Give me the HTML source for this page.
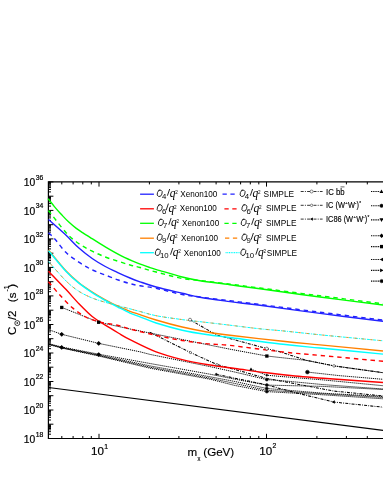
<!DOCTYPE html>
<html><head><meta charset="utf-8"><style>
html,body{margin:0;padding:0;background:#fff;}
body{will-change:transform;width:383px;height:495px;position:relative;overflow:hidden;font-family:"Liberation Sans",sans-serif;color:#000;}
.t{position:absolute;white-space:nowrap;line-height:1;}
.tk{font-size:10.3px;-webkit-text-stroke:0.2px #000;}
.tk .sup{font-size:6.8px;position:relative;top:-6.4px;left:0.4px;}
.ax{font-size:10.5px;-webkit-text-stroke:0.15px #000;}
.sub{font-size:6px;position:relative;top:3px;}
.sup{position:relative;}
.lg{font-size:8.2px;letter-spacing:-0.1px;}
.lg i{font-size:9px;}
.sub2{font-size:6px;position:relative;top:1.6px;}
.sup2{font-size:5px;position:relative;top:-3.2px;}
</style></head><body>
<svg width="383" height="495" viewBox="0 0 383 495" style="position:absolute;left:0;top:0">
<rect width="383" height="495" fill="#fff"/>
<path d="M48.5,387.5 L383,430.5" stroke="#000" stroke-width="1.25" fill="none"/>
<path d="M61.7,307.4 L98.7,322.2 L130.0,329.0 L230.0,349.2 L266.8,356.0 L280.0,357.5 L306.6,360.4 L334.0,365.9 L383.0,372.7" stroke="#000" stroke-width="1.0" stroke-dasharray="1.15,0.85" fill="none"/>
<path d="M48.5,329.6 L61.7,334.3 L98.7,343.4 L140.0,351.8 L150.0,354.4 L210.0,366.6 L235.0,372.1 L266.8,379.6 L280.0,380.5 L323.0,384.6 L383.0,389.0" stroke="#000" stroke-width="1.0" stroke-dasharray="1.15,0.85" fill="none"/>
<path d="M48.5,343.6 L61.7,347.0 L98.7,354.2 L150.0,363.5 L210.0,374.2 L235.0,379.2 L266.8,385.1 L323.0,386.4 L383.0,389.5" stroke="#000" stroke-width="1.0" stroke-dasharray="1.15,0.85" fill="none" stroke-dashoffset="0.0"/>
<path d="M48.5,343.9 L61.7,347.5 L98.7,355.0 L150.0,365.9 L210.0,376.8 L235.0,381.5 L266.8,388.5 L323.0,393.2 L383.0,396.5" stroke="#000" stroke-width="1.0" stroke-dasharray="1.15,0.85" fill="none" stroke-dashoffset="0.6"/>
<path d="M48.5,344.2 L61.7,347.8 L98.7,355.5 L150.0,367.2 L210.0,378.2 L235.0,383.5 L266.8,390.3 L323.0,393.8 L383.0,397.5" stroke="#000" stroke-width="1.0" stroke-dasharray="1.15,0.85" fill="none" stroke-dashoffset="1.1"/>
<path d="M48.5,344.5 L61.7,348.0 L98.7,356.0 L150.0,368.2 L210.0,379.2 L235.0,385.5 L266.8,391.6 L323.0,394.8 L383.0,398.8" stroke="#000" stroke-width="1.0" stroke-dasharray="1.15,0.85" fill="none" stroke-dashoffset="1.7"/>
<path d="M251.0,369.2 L266.8,375.2 L280.0,376.4 L323.0,379.9 L383.0,385.7" stroke="#000" stroke-width="1.0" stroke-dasharray="1.15,0.85" fill="none"/>
<path d="M307.4,372.1 L340.0,375.7 L383.0,379.3" stroke="#000" stroke-width="1.0" stroke-dasharray="1.15,0.85" fill="none"/>
<path d="M190.0,319.7 L216.1,334.8 L266.8,348.6 L280.0,351.8 L306.6,360.4 L334.0,365.9 L383.0,372.7" stroke="#000" stroke-width="1.05" stroke-dasharray="3,1.2,0.9,1.2" fill="none"/>
<path d="M149.6,332.2 L190.4,352.5 L217.0,364.6 L266.8,378.4 L333.4,391.0 L383.0,396.0" stroke="#000" stroke-width="1.05" stroke-dasharray="3,1.2,0.9,1.2" fill="none"/>
<path d="M216.3,374.3 L266.8,384.9 L295.7,392.8 L333.4,402.0 L383.0,407.2" stroke="#000" stroke-width="1.05" stroke-dasharray="3,1.2,0.9,1.2" fill="none"/>
<path d="M48.4,181.3 V438.5 H383 M48.4,181.9 H383" stroke="#000" stroke-width="1.2" fill="none"/>
<path d="M61.8,438.5 v-2.5 M61.8,181.9 v2.5 M73.1,438.5 v-2.5 M73.1,181.9 v2.5 M82.8,438.5 v-2.5 M82.8,181.9 v2.5 M91.3,438.5 v-2.5 M91.3,181.9 v2.5 M99.0,438.5 v-4.7 M99.0,181.9 v4.7 M149.4,438.5 v-2.5 M149.4,181.9 v2.5 M178.9,438.5 v-2.5 M178.9,181.9 v2.5 M199.8,438.5 v-2.5 M199.8,181.9 v2.5 M216.1,438.5 v-2.5 M216.1,181.9 v2.5 M229.3,438.5 v-2.5 M229.3,181.9 v2.5 M240.6,438.5 v-2.5 M240.6,181.9 v2.5 M250.3,438.5 v-2.5 M250.3,181.9 v2.5 M258.8,438.5 v-2.5 M258.8,181.9 v2.5 M266.5,438.5 v-4.7 M266.5,181.9 v4.7 M316.9,438.5 v-2.5 M316.9,181.9 v2.5 M346.4,438.5 v-2.5 M346.4,181.9 v2.5 M367.3,438.5 v-2.5 M367.3,181.9 v2.5 M383.6,438.5 v-2.5 M383.6,181.9 v2.5 M48.4,438.5 h5.0 M48.4,434.2 h2.6 M48.4,431.7 h2.6 M48.4,429.9 h2.6 M48.4,428.5 h2.6 M48.4,427.4 h2.6 M48.4,426.5 h2.6 M48.4,425.6 h2.6 M48.4,424.9 h2.6 M48.4,424.2 h5.0 M48.4,420.0 h2.6 M48.4,417.4 h2.6 M48.4,415.7 h2.6 M48.4,414.3 h2.6 M48.4,413.2 h2.6 M48.4,412.2 h2.6 M48.4,411.4 h2.6 M48.4,410.6 h2.6 M48.4,410.0 h5.0 M48.4,405.7 h2.6 M48.4,403.2 h2.6 M48.4,401.4 h2.6 M48.4,400.0 h2.6 M48.4,398.9 h2.6 M48.4,397.9 h2.6 M48.4,397.1 h2.6 M48.4,396.4 h2.6 M48.4,395.7 h5.0 M48.4,391.4 h2.6 M48.4,388.9 h2.6 M48.4,387.2 h2.6 M48.4,385.8 h2.6 M48.4,384.6 h2.6 M48.4,383.7 h2.6 M48.4,382.9 h2.6 M48.4,382.1 h2.6 M48.4,381.5 h5.0 M48.4,377.2 h2.6 M48.4,374.7 h2.6 M48.4,372.9 h2.6 M48.4,371.5 h2.6 M48.4,370.4 h2.6 M48.4,369.4 h2.6 M48.4,368.6 h2.6 M48.4,367.9 h2.6 M48.4,367.2 h5.0 M48.4,362.9 h2.6 M48.4,360.4 h2.6 M48.4,358.6 h2.6 M48.4,357.3 h2.6 M48.4,356.1 h2.6 M48.4,355.2 h2.6 M48.4,354.3 h2.6 M48.4,353.6 h2.6 M48.4,353.0 h5.0 M48.4,348.7 h2.6 M48.4,346.2 h2.6 M48.4,344.4 h2.6 M48.4,343.0 h2.6 M48.4,341.9 h2.6 M48.4,340.9 h2.6 M48.4,340.1 h2.6 M48.4,339.4 h2.6 M48.4,338.7 h5.0 M48.4,334.4 h2.6 M48.4,331.9 h2.6 M48.4,330.1 h2.6 M48.4,328.7 h2.6 M48.4,327.6 h2.6 M48.4,326.7 h2.6 M48.4,325.8 h2.6 M48.4,325.1 h2.6 M48.4,324.5 h5.0 M48.4,320.2 h2.6 M48.4,317.7 h2.6 M48.4,315.9 h2.6 M48.4,314.5 h2.6 M48.4,313.4 h2.6 M48.4,312.4 h2.6 M48.4,311.6 h2.6 M48.4,310.9 h2.6 M48.4,310.2 h5.0 M48.4,305.9 h2.6 M48.4,303.4 h2.6 M48.4,301.6 h2.6 M48.4,300.2 h2.6 M48.4,299.1 h2.6 M48.4,298.2 h2.6 M48.4,297.3 h2.6 M48.4,296.6 h2.6 M48.4,295.9 h5.0 M48.4,291.7 h2.6 M48.4,289.1 h2.6 M48.4,287.4 h2.6 M48.4,286.0 h2.6 M48.4,284.9 h2.6 M48.4,283.9 h2.6 M48.4,283.1 h2.6 M48.4,282.3 h2.6 M48.4,281.7 h5.0 M48.4,277.4 h2.6 M48.4,274.9 h2.6 M48.4,273.1 h2.6 M48.4,271.7 h2.6 M48.4,270.6 h2.6 M48.4,269.6 h2.6 M48.4,268.8 h2.6 M48.4,268.1 h2.6 M48.4,267.4 h5.0 M48.4,263.1 h2.6 M48.4,260.6 h2.6 M48.4,258.9 h2.6 M48.4,257.5 h2.6 M48.4,256.3 h2.6 M48.4,255.4 h2.6 M48.4,254.6 h2.6 M48.4,253.8 h2.6 M48.4,253.2 h5.0 M48.4,248.9 h2.6 M48.4,246.4 h2.6 M48.4,244.6 h2.6 M48.4,243.2 h2.6 M48.4,242.1 h2.6 M48.4,241.1 h2.6 M48.4,240.3 h2.6 M48.4,239.6 h2.6 M48.4,238.9 h5.0 M48.4,234.6 h2.6 M48.4,232.1 h2.6 M48.4,230.3 h2.6 M48.4,229.0 h2.6 M48.4,227.8 h2.6 M48.4,226.9 h2.6 M48.4,226.0 h2.6 M48.4,225.3 h2.6 M48.4,224.7 h5.0 M48.4,220.4 h2.6 M48.4,217.9 h2.6 M48.4,216.1 h2.6 M48.4,214.7 h2.6 M48.4,213.6 h2.6 M48.4,212.6 h2.6 M48.4,211.8 h2.6 M48.4,211.1 h2.6 M48.4,210.4 h5.0 M48.4,206.1 h2.6 M48.4,203.6 h2.6 M48.4,201.8 h2.6 M48.4,200.4 h2.6 M48.4,199.3 h2.6 M48.4,198.4 h2.6 M48.4,197.5 h2.6 M48.4,196.8 h2.6 M48.4,196.2 h5.0 M48.4,191.9 h2.6 M48.4,189.4 h2.6 M48.4,187.6 h2.6 M48.4,186.2 h2.6 M48.4,185.1 h2.6 M48.4,184.1 h2.6 M48.4,183.3 h2.6 M48.4,182.6 h2.6 M48.4,181.9 h5.0" stroke="#000" stroke-width="1" fill="none"/>
<path d="M48.5,250.0 C51.4,253.5 61.0,265.5 66.1,271.0 C71.2,276.5 74.8,279.5 79.2,283.0 C83.6,286.5 87.9,289.2 92.2,292.0 C96.5,294.8 101.0,297.4 105.3,299.8 C109.6,302.2 114.2,304.5 118.3,306.4 C122.4,308.3 126.4,309.9 130.0,311.3 C133.6,312.7 135.7,313.2 140.0,314.6 C144.3,316.1 149.1,317.9 156.1,320.0 C163.1,322.1 173.5,325.0 182.2,327.0 C190.9,329.0 200.3,330.8 208.3,332.2 C216.3,333.6 217.6,333.8 230.0,335.3 C242.4,336.8 268.0,339.7 283.0,341.3 C298.0,342.9 303.3,343.3 320.0,344.9 C336.7,346.5 372.5,350.0 383.0,351.0" stroke="#ff8000" stroke-width="1.40" fill="none"/>
<path d="M48.5,250.6 C51.4,254.1 61.0,266.0 66.1,271.5 C71.2,277.0 74.8,279.9 79.2,283.4 C83.6,286.9 87.9,289.8 92.2,292.6 C96.5,295.4 101.0,297.9 105.3,300.4 C109.6,302.8 114.2,305.2 118.3,307.3 C122.4,309.4 126.4,311.5 130.0,313.1 C133.6,314.7 135.7,315.2 140.0,316.8 C144.3,318.4 149.1,320.8 156.1,323.0 C163.1,325.2 173.5,328.2 182.2,330.2 C190.9,332.2 200.3,333.6 208.3,334.8 C216.3,336.0 217.6,335.9 230.0,337.5 C242.4,339.1 268.0,342.6 283.0,344.3 C298.0,346.1 303.3,346.4 320.0,348.0 C336.7,349.6 372.5,353.1 383.0,354.1" stroke="#00ffff" stroke-width="1.40" fill="none"/>
<path d="M48.5,261.5 C51.4,264.8 61.0,276.0 66.1,281.0 C71.2,286.0 74.8,288.7 79.2,291.5 C83.6,294.3 87.9,296.2 92.2,298.0 C96.5,299.8 101.0,301.0 105.3,302.3 C109.6,303.6 114.2,304.7 118.3,305.8 C122.4,306.9 126.4,307.9 130.0,308.8 C133.6,309.8 135.7,310.4 140.0,311.5 C144.3,312.6 149.1,314.3 156.1,315.7 C163.1,317.1 174.9,318.6 182.2,319.6 C189.5,320.6 192.0,320.8 200.0,321.7 C208.0,322.6 220.0,324.0 230.0,325.2 C240.0,326.4 251.2,327.9 260.0,328.8 C268.8,329.8 273.0,329.9 283.0,330.9 C293.0,331.9 303.3,333.1 320.0,334.8 C336.7,336.5 372.5,339.8 383.0,340.8" stroke="#00ffff" stroke-width="1.00" fill="none" stroke-dasharray="3,1,1,1"/>
<path d="M48.5,271.3 C51.4,274.4 61.0,284.2 66.1,289.6 C71.2,295.1 74.8,299.5 79.2,304.0 C83.6,308.5 87.9,313.0 92.2,316.5 C96.5,320.0 101.0,322.4 105.3,325.2 C109.6,327.9 114.2,330.6 118.3,333.0 C122.4,335.4 123.7,336.5 130.0,339.6 C136.3,342.7 147.4,348.5 156.1,351.8 C164.8,355.1 173.5,357.4 182.2,359.6 C190.9,361.8 199.5,363.3 208.3,364.8 C217.1,366.3 225.2,367.2 235.0,368.5 C244.8,369.8 256.8,371.6 266.8,372.8 C276.8,374.1 285.6,375.1 295.0,376.0 C304.4,376.9 308.3,377.1 323.0,378.2 C337.7,379.3 373.0,381.8 383.0,382.5" stroke="#ff0000" stroke-width="1.40" fill="none"/>
<path d="M48.5,281.8 C50.4,284.0 55.6,290.5 59.6,294.8 C63.6,299.1 68.2,304.2 72.6,307.9 C76.9,311.6 81.3,314.7 85.7,317.0 C90.1,319.3 93.3,320.3 98.7,321.7 C104.1,323.1 113.1,324.3 118.3,325.5 C123.5,326.7 123.7,327.4 130.0,329.0 C136.3,330.6 147.4,333.4 156.1,335.3 C164.8,337.2 173.5,339.1 182.2,340.5 C190.9,341.9 200.3,343.1 208.3,343.9 C216.3,344.7 217.6,344.0 230.0,345.4 C242.4,346.8 268.0,350.3 283.0,352.0 C298.0,353.7 303.3,353.8 320.0,355.4 C336.7,356.9 372.5,360.3 383.0,361.3" stroke="#ff0000" stroke-width="1.40" fill="none" stroke-dasharray="4.4,3.9"/>
<path d="M48.5,219.6 C51.4,222.2 61.0,230.5 66.1,235.3 C71.2,240.1 74.8,244.4 79.2,248.3 C83.6,252.2 87.9,255.5 92.2,258.5 C96.5,261.5 101.0,264.1 105.3,266.5 C109.6,268.9 114.2,270.9 118.3,272.8 C122.4,274.7 126.4,276.5 130.0,278.0 C133.6,279.5 135.7,280.3 140.0,281.8 C144.3,283.3 149.1,285.1 156.1,287.0 C163.1,288.9 174.9,291.5 182.2,293.2 C189.5,294.9 192.0,295.8 200.0,297.2 C208.0,298.6 220.0,300.2 230.0,301.6 C240.0,303.0 245.0,303.3 260.0,305.3 C275.0,307.3 299.5,310.7 320.0,313.4 C340.5,316.1 372.5,320.0 383.0,321.3" stroke="#2222ff" stroke-width="1.40" fill="none"/>
<path d="M48.5,232.7 C49.7,233.9 52.8,236.7 55.7,240.0 C58.6,243.3 62.2,248.9 66.1,252.6 C70.0,256.3 74.8,259.5 79.2,262.4 C83.6,265.3 87.9,267.8 92.2,269.9 C96.5,272.0 101.0,273.3 105.3,275.0 C109.6,276.7 114.2,278.6 118.3,280.0 C122.4,281.4 126.4,282.6 130.0,283.6 C133.6,284.6 135.7,285.0 140.0,285.8 C144.3,286.6 149.1,286.9 156.1,288.3 C163.1,289.8 174.9,293.1 182.2,294.5 C189.5,295.9 192.0,295.9 200.0,297.0 C208.0,298.1 220.0,299.6 230.0,300.8 C240.0,302.1 245.0,302.6 260.0,304.5 C275.0,306.4 299.5,309.6 320.0,312.2 C340.5,314.8 372.5,318.8 383.0,320.1" stroke="#2222ff" stroke-width="1.40" fill="none" stroke-dasharray="4.4,3.9"/>
<path d="M48.0,198.6 C49.1,199.9 52.3,204.1 54.4,206.6 C56.5,209.1 58.4,211.3 60.7,213.8 C63.1,216.3 65.9,219.4 68.5,221.8 C71.1,224.2 73.7,226.4 76.3,228.4 C78.9,230.4 81.7,232.1 84.0,233.6 C86.3,235.1 86.4,235.0 90.0,237.3 C93.6,239.6 100.5,244.1 105.7,247.2 C110.9,250.3 116.1,253.3 121.3,255.9 C126.5,258.5 132.2,260.9 137.0,262.9 C141.8,264.8 146.2,266.3 150.0,267.6 C153.8,268.9 154.6,269.0 160.0,270.6 C165.4,272.2 175.5,275.3 182.2,277.0 C188.9,278.7 192.0,279.4 200.0,280.7 C208.0,282.0 220.0,283.3 230.0,284.7 C240.0,286.1 245.0,286.8 260.0,288.8 C275.0,290.9 299.5,294.3 320.0,297.0 C340.5,299.7 372.5,303.7 383.0,305.0" stroke="#00ff00" stroke-width="1.40" fill="none"/>
<path d="M48.5,210.5 C51.4,214.2 61.0,227.1 66.1,232.7 C71.2,238.3 74.8,240.8 79.2,243.9 C83.6,247.0 87.9,249.0 92.2,251.2 C96.5,253.4 101.0,255.3 105.3,257.0 C109.6,258.7 114.2,260.0 118.3,261.3 C122.4,262.6 126.4,264.0 130.0,265.0 C133.6,266.0 135.7,266.3 140.0,267.5 C144.3,268.7 149.1,270.2 156.1,272.0 C163.1,273.8 174.9,277.1 182.2,278.5 C189.5,279.9 192.0,279.6 200.0,280.5 C208.0,281.4 220.0,282.9 230.0,284.2 C240.0,285.4 245.0,286.1 260.0,288.0 C275.0,289.9 299.5,293.2 320.0,295.8 C340.5,298.4 372.5,302.5 383.0,303.8" stroke="#00ff00" stroke-width="1.40" fill="none" stroke-dasharray="4.4,3.9"/>
<path d="M48.5,261.5 C51.4,264.8 61.0,276.0 66.1,281.0 C71.2,286.0 74.8,288.7 79.2,291.5 C83.6,294.3 87.9,296.2 92.2,298.0 C96.5,299.8 101.0,301.0 105.3,302.3 C109.6,303.6 114.2,304.7 118.3,305.8 C122.4,306.9 126.4,307.9 130.0,308.8 C133.6,309.8 135.7,310.4 140.0,311.5 C144.3,312.6 149.1,314.3 156.1,315.7 C163.1,317.1 174.9,318.6 182.2,319.6 C189.5,320.6 192.0,320.8 200.0,321.7 C208.0,322.6 220.0,324.0 230.0,325.2 C240.0,326.4 251.2,327.9 260.0,328.8 C268.8,329.8 273.0,329.9 283.0,330.9 C293.0,331.9 303.3,333.1 320.0,334.8 C336.7,336.5 372.5,339.8 383.0,340.8" stroke="#ff8000" stroke-width="1.0" fill="none" stroke-dasharray="3,5" stroke-dashoffset="-3" opacity="0.7"/>
<rect x="60.1" y="305.8" width="3.3" height="3.3" fill="#000"/>
<rect x="97.0" y="320.6" width="3.3" height="3.3" fill="#000"/>
<rect x="265.2" y="354.4" width="3.3" height="3.3" fill="#000"/>
<path d="M61.7,331.9 l2.4,2.4 l-2.4,2.4 l-2.4,-2.4 z" fill="#000"/>
<path d="M98.7,341.0 l2.4,2.4 l-2.4,2.4 l-2.4,-2.4 z" fill="#000"/>
<path d="M61.7,345.0 l2.4,2.4 l-2.4,2.4 l-2.4,-2.4 z" fill="#000"/>
<path d="M98.7,352.2 l2.4,2.4 l-2.4,2.4 l-2.4,-2.4 z" fill="#000"/>
<circle cx="266.8" cy="379.6" r="1.5" fill="#000" stroke="#222" stroke-width="0.55"/>
<circle cx="266.8" cy="385.1" r="1.5" fill="#000" stroke="#222" stroke-width="0.55"/>
<circle cx="266.8" cy="388.5" r="1.5" fill="#000" stroke="#222" stroke-width="0.55"/>
<circle cx="266.8" cy="391.6" r="1.5" fill="#000" stroke="#222" stroke-width="0.55"/>
<circle cx="266.8" cy="375.2" r="1.0" fill="#000" stroke="#222" stroke-width="0.55"/>
<circle cx="190.0" cy="319.7" r="1.5" fill="#fff" stroke="#222" stroke-width="0.55"/>
<circle cx="266.8" cy="348.6" r="1.5" fill="#fff" stroke="#222" stroke-width="0.55"/>
<circle cx="334.0" cy="365.9" r="1.3" fill="#fff" stroke="#222" stroke-width="0.55"/>
<circle cx="190.4" cy="352.5" r="1.1" fill="#fff" stroke="#222" stroke-width="0.55"/>
<circle cx="217.0" cy="364.6" r="1.1" fill="#fff" stroke="#222" stroke-width="0.55"/>
<circle cx="216.3" cy="374.3" r="1.0" fill="#000" stroke="#222" stroke-width="0.55"/>
<path d="M251.0,367.4 L252.8,370.6 L249.2,370.6 z" fill="#000"/>
<circle cx="307.4" cy="372.1" r="1.9" fill="#000" stroke="#222" stroke-width="0.55"/>
<path d="M331.6,402.0 L334.8,400.2 L334.8,403.8 z" fill="#000"/>
<g font-family="Liberation Sans" fill="#000">
<path d="M140.1,194.2 H153.9" stroke="#2222ff" stroke-width="1.3"/>
<ellipse cx="159.7" cy="193.3" rx="2.35" ry="3.35" transform="rotate(20 159.7 193.3)" stroke="#000" stroke-width="0.75" fill="none"/><path d="M160.3,190.3 q-1.2,-0.9 -2.2,0.4" stroke="#000" stroke-width="0.5" fill="none"/><text x="161.9" y="199.0" font-size="7.8">4</text><path d="M167.4,195.7 l2.3,-6.7" stroke="#000" stroke-width="0.85" fill="none"/><text x="169.7" y="197.1" font-size="11.5" font-style="italic" font-family="Liberation Serif">q</text><text x="175.2" y="194.3" font-size="4.6">2</text>
<text x="180.3" y="196.6" font-size="8.15">Xenon100</text>
<path d="M222.5,194.2 h12.2" stroke="#2222ff" stroke-width="1.3" stroke-dasharray="4.3,3.6"/>
<ellipse cx="242.6" cy="193.3" rx="2.35" ry="3.35" transform="rotate(20 242.6 193.3)" stroke="#000" stroke-width="0.75" fill="none"/><path d="M243.2,190.3 q-1.2,-0.9 -2.2,0.4" stroke="#000" stroke-width="0.5" fill="none"/><text x="244.8" y="199.0" font-size="7.8">4</text><path d="M250.3,195.7 l2.3,-6.7" stroke="#000" stroke-width="0.85" fill="none"/><text x="252.6" y="197.1" font-size="11.5" font-style="italic" font-family="Liberation Serif">q</text><text x="258.1" y="194.3" font-size="4.6">2</text>
<text x="263.6" y="196.6" font-size="8.3">SIMPLE</text>
<path d="M140.1,208.8 H153.9" stroke="#ff0000" stroke-width="1.3"/>
<ellipse cx="159.7" cy="207.9" rx="2.35" ry="3.35" transform="rotate(20 159.7 207.9)" stroke="#000" stroke-width="0.75" fill="none"/><path d="M160.3,204.9 q-1.2,-0.9 -2.2,0.4" stroke="#000" stroke-width="0.5" fill="none"/><text x="161.9" y="213.6" font-size="7.8">6</text><path d="M166.1,210.3 l2.3,-6.7" stroke="#000" stroke-width="0.85" fill="none"/><text x="168.4" y="211.7" font-size="11.5" font-style="italic" font-family="Liberation Serif">q</text><text x="173.9" y="208.9" font-size="4.6">2</text>
<text x="179.8" y="211.2" font-size="8.15">Xenon100</text>
<path d="M224.4,208.8 h12.2" stroke="#ff0000" stroke-width="1.3" stroke-dasharray="4.3,3.6"/>
<ellipse cx="244.4" cy="207.9" rx="2.35" ry="3.35" transform="rotate(20 244.4 207.9)" stroke="#000" stroke-width="0.75" fill="none"/><path d="M245.0,204.9 q-1.2,-0.9 -2.2,0.4" stroke="#000" stroke-width="0.5" fill="none"/><text x="246.6" y="213.6" font-size="7.8">6</text><path d="M251.1,210.3 l2.3,-6.7" stroke="#000" stroke-width="0.85" fill="none"/><text x="253.4" y="211.7" font-size="11.5" font-style="italic" font-family="Liberation Serif">q</text><text x="258.9" y="208.9" font-size="4.6">2</text>
<text x="266.0" y="211.2" font-size="8.3">SIMPLE</text>
<path d="M140.1,223.3 H153.9" stroke="#00ff00" stroke-width="1.3"/>
<ellipse cx="160.9" cy="222.4" rx="2.35" ry="3.35" transform="rotate(20 160.9 222.4)" stroke="#000" stroke-width="0.75" fill="none"/><path d="M161.5,219.4 q-1.2,-0.9 -2.2,0.4" stroke="#000" stroke-width="0.5" fill="none"/><text x="163.1" y="228.1" font-size="7.8">7</text><path d="M168.8,224.8 l2.3,-6.7" stroke="#000" stroke-width="0.85" fill="none"/><text x="171.1" y="226.2" font-size="11.5" font-style="italic" font-family="Liberation Serif">q</text><text x="176.6" y="223.4" font-size="4.6">2</text>
<text x="182.1" y="225.7" font-size="8.15">Xenon100</text>
<path d="M224.4,223.3 h12.2" stroke="#00ff00" stroke-width="1.3" stroke-dasharray="4.3,3.6"/>
<ellipse cx="243.7" cy="222.4" rx="2.35" ry="3.35" transform="rotate(20 243.7 222.4)" stroke="#000" stroke-width="0.75" fill="none"/><path d="M244.3,219.4 q-1.2,-0.9 -2.2,0.4" stroke="#000" stroke-width="0.5" fill="none"/><text x="245.9" y="228.1" font-size="7.8">7</text><path d="M251.6,224.8 l2.3,-6.7" stroke="#000" stroke-width="0.85" fill="none"/><text x="253.9" y="226.2" font-size="11.5" font-style="italic" font-family="Liberation Serif">q</text><text x="259.4" y="223.4" font-size="4.6">2</text>
<text x="266.0" y="225.7" font-size="8.3">SIMPLE</text>
<path d="M140.1,238.2 H153.9" stroke="#ff8000" stroke-width="1.3"/>
<ellipse cx="159.7" cy="237.3" rx="2.35" ry="3.35" transform="rotate(20 159.7 237.3)" stroke="#000" stroke-width="0.75" fill="none"/><path d="M160.3,234.3 q-1.2,-0.9 -2.2,0.4" stroke="#000" stroke-width="0.5" fill="none"/><text x="161.9" y="243.0" font-size="7.8">9</text><path d="M167.3,239.7 l2.3,-6.7" stroke="#000" stroke-width="0.85" fill="none"/><text x="169.6" y="241.1" font-size="11.5" font-style="italic" font-family="Liberation Serif">q</text><text x="175.1" y="238.3" font-size="4.6">2</text>
<text x="181.0" y="240.6" font-size="8.15">Xenon100</text>
<path d="M225.0,238.2 h12.2" stroke="#ff8000" stroke-width="1.3" stroke-dasharray="4.3,3.6"/>
<ellipse cx="244.4" cy="237.3" rx="2.35" ry="3.35" transform="rotate(20 244.4 237.3)" stroke="#000" stroke-width="0.75" fill="none"/><path d="M245.0,234.3 q-1.2,-0.9 -2.2,0.4" stroke="#000" stroke-width="0.5" fill="none"/><text x="246.6" y="243.0" font-size="7.8">9</text><path d="M251.1,239.7 l2.3,-6.7" stroke="#000" stroke-width="0.85" fill="none"/><text x="253.4" y="241.1" font-size="11.5" font-style="italic" font-family="Liberation Serif">q</text><text x="258.9" y="238.3" font-size="4.6">2</text>
<text x="266.0" y="240.6" font-size="8.3">SIMPLE</text>
<path d="M140.1,252.7 H153.9" stroke="#00ffff" stroke-width="1.3"/>
<ellipse cx="157.8" cy="252.3" rx="2.35" ry="3.35" transform="rotate(20 157.8 252.3)" stroke="#000" stroke-width="0.75" fill="none"/><path d="M158.4,249.3 q-1.2,-0.9 -2.2,0.4" stroke="#000" stroke-width="0.5" fill="none"/><text x="160.0" y="258.0" font-size="7.8">10</text><path d="M170.5,254.7 l2.3,-6.7" stroke="#000" stroke-width="0.85" fill="none"/><text x="172.8" y="256.1" font-size="11.5" font-style="italic" font-family="Liberation Serif">q</text><text x="178.3" y="253.3" font-size="4.6">2</text>
<text x="183.8" y="255.6" font-size="8.15">Xenon100</text>
<path d="M225.6,252.7 H239.7" stroke="#00ffff" stroke-width="1.3" stroke-dasharray="1,0.7"/>
<ellipse cx="243.3" cy="252.3" rx="2.35" ry="3.35" transform="rotate(20 243.3 252.3)" stroke="#000" stroke-width="0.75" fill="none"/><path d="M243.9,249.3 q-1.2,-0.9 -2.2,0.4" stroke="#000" stroke-width="0.5" fill="none"/><text x="245.5" y="258.0" font-size="7.8">10</text><path d="M255.8,254.7 l2.3,-6.7" stroke="#000" stroke-width="0.85" fill="none"/><text x="258.1" y="256.1" font-size="11.5" font-style="italic" font-family="Liberation Serif">q</text><text x="263.6" y="253.3" font-size="4.6">2</text>
<text x="266.7" y="255.6" font-size="8.3">SIMPLE</text>
</g>
<path d="M300.7,191.5 H322.6" stroke="#000" stroke-width="0.8" stroke-dasharray="3,1.2,1,1.2"/>
<path d="M300.7,205.3 H322.6" stroke="#000" stroke-width="0.8" stroke-dasharray="3,1.2,1,1.2"/>
<path d="M300.7,219.1 H322.6" stroke="#000" stroke-width="0.8" stroke-dasharray="3,1.2,1,1.2"/>
<circle cx="311.6" cy="191.5" r="1.5" fill="#fff" stroke="#222" stroke-width="0.55"/>
<circle cx="311.6" cy="205.3" r="1.2" fill="#fff" stroke="#222" stroke-width="0.55"/>
<path d="M310.0,219.1 L312.9,217.5 L312.9,220.7 z" fill="#000"/>
<g font-family="Liberation Sans" fill="#000" stroke="#000" stroke-width="0.12">
<text transform="translate(326.00,194.50) scale(1,1.1)" font-size="7.80">IC b</text>
<text transform="translate(340.31,194.50) scale(1,1.1)" font-size="7.80">b</text>
<path d="M340.5,186.9 h4.0" stroke="#000" stroke-width="0.6"/>
<text transform="translate(326.00,208.30) scale(1,1.1)" font-size="7.40">IC (W</text><text transform="translate(345.21,203.90) scale(1,1.1)" font-size="4.00">+</text><text transform="translate(347.91,208.30) scale(1,1.1)" font-size="7.40">W</text><text transform="translate(355.09,203.70) scale(1,1.1)" font-size="4.00">-</text><text transform="translate(356.49,208.30) scale(1,1.1)" font-size="7.40">)</text><text transform="translate(359.16,204.70) scale(1,1.1)" font-size="4.60">*</text>
<text transform="translate(326.00,222.10) scale(1,1.1)" font-size="7.40">IC86 (W</text><text transform="translate(353.44,217.70) scale(1,1.1)" font-size="4.00">+</text><text transform="translate(356.14,222.10) scale(1,1.1)" font-size="7.40">W</text><text transform="translate(363.32,217.50) scale(1,1.1)" font-size="4.00">-</text><text transform="translate(364.72,222.10) scale(1,1.1)" font-size="7.40">)</text><text transform="translate(367.39,218.50) scale(1,1.1)" font-size="4.60">*</text>
</g>
<path d="M371,191.5 H380" stroke="#000" stroke-width="1.1" stroke-dasharray="1.3,0.9"/>
<path d="M371,205.8 H380" stroke="#000" stroke-width="1.1" stroke-dasharray="1.3,0.9"/>
<path d="M371,219.9 H380" stroke="#000" stroke-width="1.1" stroke-dasharray="1.3,0.9"/>
<path d="M371,235.7 H380" stroke="#000" stroke-width="1.1" stroke-dasharray="1.3,0.9"/>
<path d="M371,246.6 H380" stroke="#000" stroke-width="1.1" stroke-dasharray="1.3,0.9"/>
<path d="M371,259.5 H380" stroke="#000" stroke-width="1.1" stroke-dasharray="1.3,0.9"/>
<path d="M371,270.4 H380" stroke="#000" stroke-width="1.1" stroke-dasharray="1.3,0.9"/>
<path d="M371,281.1 H380" stroke="#000" stroke-width="1.1" stroke-dasharray="1.3,0.9"/>
<path d="M381.5,189.5 L383.5,193.1 L379.5,193.1 z" fill="#000"/>
<circle cx="381.5" cy="205.8" r="1.7" fill="#000" stroke="#222" stroke-width="0.55"/>
<path d="M381.5,221.9 L383.5,218.3 L379.5,218.3 z" fill="#000"/>
<path d="M381.6,233.5 l2.2,2.2 l-2.2,2.2 l-2.2,-2.2 z" fill="#000"/>
<rect x="380.0" y="244.9" width="3.4" height="3.4" fill="#000"/>
<path d="M379.7,259.5 L383.1,257.6 L383.1,261.4 z" fill="#000"/>
<path d="M383.5,270.4 L380.1,268.5 L380.1,272.3 z" fill="#000"/>
<circle cx="381.6" cy="281.1" r="1.7" fill="#000" stroke="#222" stroke-width="0.55"/>
<g transform="translate(16.3,334.9) rotate(-90)" font-family="Liberation Sans" font-size="11.6" fill="#000" stroke="#000" stroke-width="0.15">
<text x="0" y="0">C</text>
<circle cx="11.8" cy="1.0" r="2.5" fill="none" stroke="#000" stroke-width="0.75"/><circle cx="11.8" cy="1.0" r="0.75" fill="#000"/>
<text x="14.8" y="0">/2</text>
<text x="32.7" y="0">(s</text>
<text x="43.3" y="-7.4" font-size="6.8">-1</text>
<text x="47.2" y="0">)</text>
</g>
</svg>
<div class="t tk" style="left:23.8px;top:434.9px;">10<span class="sup">18</span></div>
<div class="t tk" style="left:23.8px;top:406.3px;">10<span class="sup">20</span></div>
<div class="t tk" style="left:23.8px;top:377.8px;">10<span class="sup">22</span></div>
<div class="t tk" style="left:23.8px;top:349.3px;">10<span class="sup">24</span></div>
<div class="t tk" style="left:23.8px;top:320.8px;">10<span class="sup">26</span></div>
<div class="t tk" style="left:23.8px;top:292.3px;">10<span class="sup">28</span></div>
<div class="t tk" style="left:23.8px;top:263.8px;">10<span class="sup">30</span></div>
<div class="t tk" style="left:23.8px;top:235.3px;">10<span class="sup">32</span></div>
<div class="t tk" style="left:23.8px;top:206.8px;">10<span class="sup">34</span></div>
<div class="t tk" style="left:23.8px;top:178.2px;">10<span class="sup">36</span></div>
<div class="t tk" style="left:91.0px;top:445.2px;font-size:11.6px">10<span class="sup">1</span></div>
<div class="t tk" style="left:259.3px;top:444.6px;font-size:11.6px">10<span class="sup">2</span></div>
<div class="t ax" style="left:187.5px;top:446.0px;font-size:11.6px">m<span class="sub" style="font-size:5.5px;top:4.2px;left:0.3px">&chi;</span> (GeV)</div>
</body></html>
